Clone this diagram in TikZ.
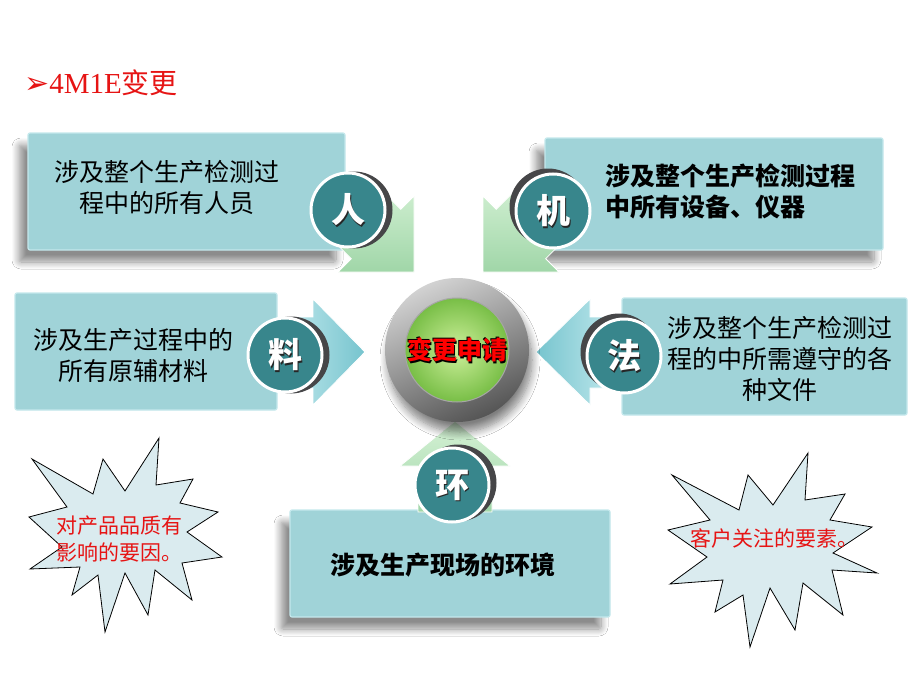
\documentclass[tikz,border=0pt]{standalone}
\usepackage{fontspec}
\setmainfont{Liberation Serif}
\newfontfamily\cjk{Noto Sans CJK SC}
\newfontfamily\dejavu{DejaVu Sans}
\usetikzlibrary{shadows.blur}
\definecolor{boxc}{RGB}{160,211,216}
\definecolor{boxedge}{RGB}{196,232,236}
\definecolor{tealc}{RGB}{56,134,140}
\definecolor{cshadow}{RGB}{70,70,72}
\definecolor{greenL}{RGB}{214,242,214}
\definecolor{greenD}{RGB}{160,214,168}
\definecolor{cyanL}{RGB}{196,234,238}
\definecolor{cyanD}{RGB}{118,196,206}
\definecolor{starc}{RGB}{218,235,239}
\definecolor{titlered}{RGB}{230,20,20}
\definecolor{ringL}{RGB}{210,210,210}
\definecolor{ringD}{RGB}{85,85,85}
\definecolor{discL}{RGB}{205,240,155}
\definecolor{discD}{RGB}{120,190,70}
\tikzset{
 box/.style={rectangle, fill=boxc, draw=boxedge, line width=1.2pt, rounded corners=2pt, inner sep=0pt},
 bshadow/.style={blur shadow={shadow xshift=-9pt, shadow yshift=-12pt, shadow blur steps=10, shadow blur radius=7pt, shadow opacity=45}},
 boxtext/.style={font=\cjk\fontsize{25}{31}\selectfont, text=black, inner sep=0pt},
 boxtextb/.style={font=\cjk\bfseries\fontsize{25}{31}\selectfont, text=black, inner sep=0pt},
 circ/.style={circle, fill=tealc, draw=white, line width=3pt, minimum size=74pt, inner sep=0pt},
 csh/.style={circle, fill=cshadow, minimum size=77pt, inner sep=0pt},
 letter/.style={font=\cjk\bfseries\fontsize{34}{34}\selectfont, text=white, inner sep=0pt},
 lettersh/.style={font=\cjk\bfseries\fontsize{34}{34}\selectfont, text=black!85, inner sep=0pt},
 garrow/.style={top color=greenL, bottom color=greenD, draw=white, line width=0.8pt},
 carrowR/.style={left color=cyanL, right color=cyanD, draw=white, line width=0.8pt},
 carrowL/.style={left color=cyanD, right color=cyanL, draw=white, line width=0.8pt},
 starburst/.style={fill=starc, draw=black, line width=0.8pt, line join=miter},
 redtext/.style={font=\cjk\fontsize{21}{27}\selectfont, text=titlered, inner sep=0pt},
 centertext/.style={font=\cjk\bfseries\fontsize{25}{25}\selectfont, inner sep=0pt},
}
\newcommand\lettercirc[6]{%
 \node[csh] (#1s) at (#5,#6) {};
 \node[circ] (#1) at (#2,#3) {};
 \node[lettersh] (#1ts) at (#2+1.5,#3+1.5) {#4};
 \node[letter] (#1t) at (#2,#3) {#4};
}
\begin{document}
\begin{tikzpicture}[x=1pt,y=-1pt]
\useasboundingbox (0,0) rectangle (920,690);
\fill[white] (0,0) rectangle (920,690);

% title
\node[anchor=west, inner sep=0pt, text=titlered] (title) at (24,83)
 {{\dejavu\fontsize{30}{32}\selectfont ➢}{\fontsize{29}{32}\selectfont 4M1E}{\cjk\fontsize{28}{32}\selectfont 变更}};

% boxes
\node[box, bshadow, minimum width=317pt, minimum height=117pt] (boxR) at (186.5,191.5) {};
\node[box, bshadow, minimum width=338pt, minimum height=112pt] (boxJ) at (714,194) {};
\node[box, minimum width=262pt, minimum height=117pt] (boxL) at (146,351.5) {};
\node[box, minimum width=285pt, minimum height=117pt] (boxF) at (764.5,356.5) {};
\node[box, bshadow, minimum width=320pt, minimum height=107pt] (boxH) at (450,563.5) {};

% box texts
\node[boxtext, align=center] (tR) at (167,187) {涉及整个生产检测过\\程中的所有人员};
\node[boxtextb, align=left, anchor=west] (tJ) at (605,191) {涉及整个生产检测过程\\中所有设备、仪器};
\node[boxtext, align=center] (tL) at (133,355) {涉及生产过程中的\\所有原辅材料};
\node[boxtext, align=center] (tF) at (780,359) {涉及整个生产检测过\\程的中所需遵守的各\\种文件};
\node[boxtextb] (tH) at (443,565) {涉及生产现场的环境};

% arrows
\path[garrow] (414,272) -- (338,272) -- (351.3,258.7) -- (319.5,226.9) -- (368.9,177.5) -- (400.7,209.3) -- (414,196) -- cycle;
\path[garrow] (483,272) -- (559,272) -- (545.7,258.7) -- (577.5,226.9) -- (528.1,177.5) -- (496.3,209.3) -- (483,196) -- cycle;
\path[carrowR] (280,317) -- (313,317) -- (313,299) -- (365,352) -- (313,405) -- (313,388) -- (280,388) -- cycle;
\path[carrowL] (620,317) -- (590,317) -- (590,299) -- (536,352) -- (590,405) -- (590,388) -- (620,388) -- cycle;
\path[garrow] (418,512) -- (418,466) -- (400,466) -- (455,421) -- (510,466) -- (492,466) -- (492,512) -- cycle;

% central circle
\node[circle, minimum size=144pt, inner sep=0pt, top color=ringL, bottom color=ringD, shading angle=25,
      blur shadow={shadow xshift=3pt, shadow yshift=-10pt, shadow blur steps=10, shadow blur radius=8pt, shadow opacity=50}] (ring) at (457,350) {};
\node[circle, minimum size=104pt, inner sep=0pt, inner color=discL, outer color=discD, draw=gray!70, line width=1pt] (disc) at (457,350) {};
\node[centertext, text=black] (ct1) at (457+1.8,350+1.8) {变更申请};
\node[centertext, text=black] (ct2) at (457-0.8,350-0.8) {变更申请};
\node[centertext, text=red] (ct) at (457,350) {变更申请};

% letter circles
\lettercirc{cR}{348}{210}{人}{354}{210}
\lettercirc{cJ}{553}{211}{机}{548}{207}
\lettercirc{cL}{285}{355}{料}{291}{355}
\lettercirc{cF}{624}{356}{法}{619}{352}
\lettercirc{cH}{452}{485}{环}{458}{483}

% starbursts
\path[starburst] (32,459) -- (93,494) -- (103,459) -- (125,491) -- (159,438) -- (156,485) -- (193,479) -- (180,503)
 -- (218,512) -- (187,532) -- (222,557) -- (182,563) -- (192,600) -- (155,570) -- (148,615) -- (125,573)
 -- (105,632) -- (98,575) -- (72,595) -- (80,567) -- (30,569) -- (62,547) -- (29,517) -- (67,507) -- cycle;
\node[redtext, align=left, anchor=west] (s1t) at (56,539) {对产品品质有\\影响的要因。};

\path[starburst] (672,475) -- (739,510) -- (748,475) -- (773,505) -- (808,453) -- (805,500) -- (845,494) -- (830,520)
 -- (872,527) -- (833,553) -- (877,573) -- (832,570) -- (843,615) -- (803,583) -- (795,630) -- (770,588)
 -- (750,647) -- (743,595) -- (715,612) -- (723,580) -- (670,584) -- (707,557) -- (668,530) -- (710,520) -- cycle;
\node[redtext] (s2t) at (774,538) {客户关注的要素。};
\end{tikzpicture}
\end{document}
